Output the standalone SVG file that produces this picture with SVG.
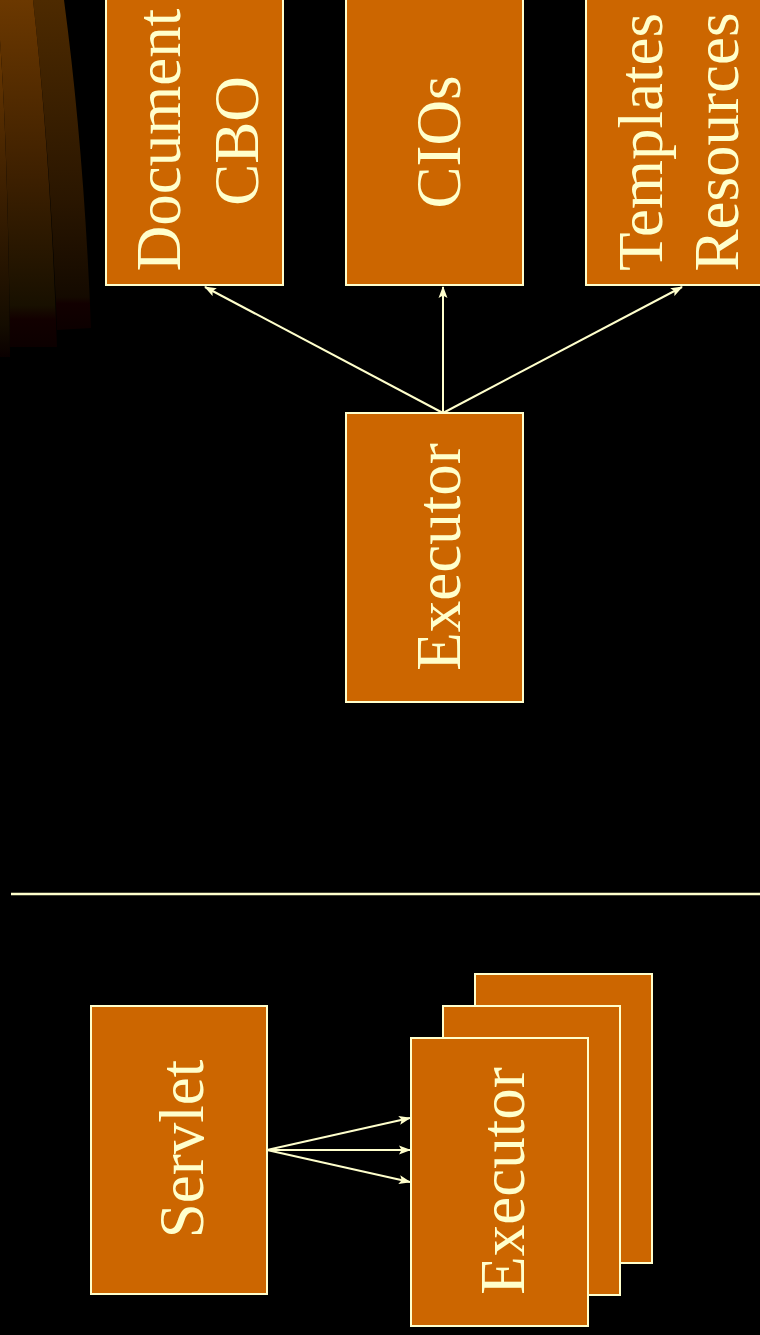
<svg xmlns="http://www.w3.org/2000/svg" width="760" height="1335" viewBox="0 0 760 1335">
  <defs>
    <style>
      .box { fill: #CC6600; stroke: #FFFFCC; stroke-width: 2; }
      .lbl { fill: #FFFFCC; font-family: "Liberation Serif", "Times New Roman", serif; font-size: 63px; text-anchor: middle; }
      .conn { stroke: #FFFFCC; stroke-width: 2; fill: none; marker-end: url(#arrow); }
    </style>
    <marker id="arrow" markerUnits="userSpaceOnUse" markerWidth="12" markerHeight="10" refX="11" refY="5" orient="auto">
      <path d="M0,0.5 L12,5 L0,9.5 L2.5,5 Z" fill="#FFFFCC"/>
    </marker>
    <linearGradient id="gA" x1="0" y1="0" x2="0" y2="1">
      <stop offset="0" stop-color="#4d2a00"/>
      <stop offset="0.6" stop-color="#2a1600"/>
      <stop offset="0.9" stop-color="#140a00"/>
      <stop offset="0.92" stop-color="#120000"/>
      <stop offset="1" stop-color="#0c0000"/>
    </linearGradient>
    <linearGradient id="gB" x1="0" y1="0" x2="0" y2="1">
      <stop offset="0" stop-color="#6b3800"/>
      <stop offset="0.5" stop-color="#3e2000"/>
      <stop offset="0.88" stop-color="#181000"/>
      <stop offset="0.92" stop-color="#120000"/>
      <stop offset="1" stop-color="#0c0000"/>
    </linearGradient>
    <linearGradient id="gC" x1="0" y1="0" x2="0" y2="1">
      <stop offset="0" stop-color="#6b3800"/>
      <stop offset="0.5" stop-color="#3a1e00"/>
      <stop offset="0.9" stop-color="#140c00"/>
      <stop offset="1" stop-color="#0a0000"/>
    </linearGradient>
  </defs>
  <rect width="760" height="1335" fill="#000"/>
  <g id="decoration">
    <path d="M33,0 L64,0 Q84,150 91,328 L57,330 Q50,150 33,0 Z" fill="url(#gA)"/>
    <path d="M0,0 L33,0 Q50,150 57,347 L10,347 Q8,150 0,40 Z" fill="url(#gB)"/>
    <path d="M0,40 Q8,150 10,357 L0,357 Z" fill="url(#gC)"/>
  </g>
  <g id="connectors">
    <line class="conn" x1="443" y1="413" x2="205" y2="287"/>
    <line class="conn" x1="443" y1="413" x2="443" y2="287"/>
    <line class="conn" x1="443" y1="413" x2="682" y2="287"/>
    <line class="conn" x1="267" y1="1150" x2="410" y2="1118"/>
    <line class="conn" x1="267" y1="1150" x2="410" y2="1150"/>
    <line class="conn" x1="267" y1="1150" x2="410" y2="1182"/>
  </g>
  <line id="divider" x1="11" y1="894" x2="760" y2="894" stroke="#FFFFCC" stroke-width="2.5"/>
  <g id="document">
    <rect class="box" x="106" y="-4" width="177" height="289"/>
    <text class="lbl" transform="translate(180,140) rotate(-90)">Document</text>
    <text class="lbl" transform="translate(258,141) rotate(-90)">CBO</text>
  </g>
  <g id="cios">
    <rect class="box" x="346" y="-4" width="177" height="289"/>
    <text class="lbl" transform="translate(460,142) rotate(-90)">CIOs</text>
  </g>
  <g id="templates">
    <rect class="box" x="586" y="-4" width="177" height="289"/>
    <text class="lbl" transform="translate(662,142) rotate(-90)">Templates</text>
    <text class="lbl" transform="translate(738,142) rotate(-90)">Resources</text>
  </g>
  <g id="executor-top">
    <rect class="box" x="346" y="413" width="177" height="289"/>
    <text class="lbl" transform="translate(460,557) rotate(-90)">Executor</text>
  </g>
  <g id="servlet">
    <rect class="box" x="91" y="1006" width="176" height="288"/>
    <text class="lbl" transform="translate(203,1149) rotate(-90)">Servlet</text>
  </g>
  <g id="executor-stack">
    <rect class="box" x="475" y="974" width="177" height="289"/>
    <rect class="box" x="443" y="1006" width="177" height="289"/>
    <rect class="box" x="411" y="1038" width="177" height="288"/>
    <text class="lbl" transform="translate(524,1181) rotate(-90)">Executor</text>
  </g>
</svg>
